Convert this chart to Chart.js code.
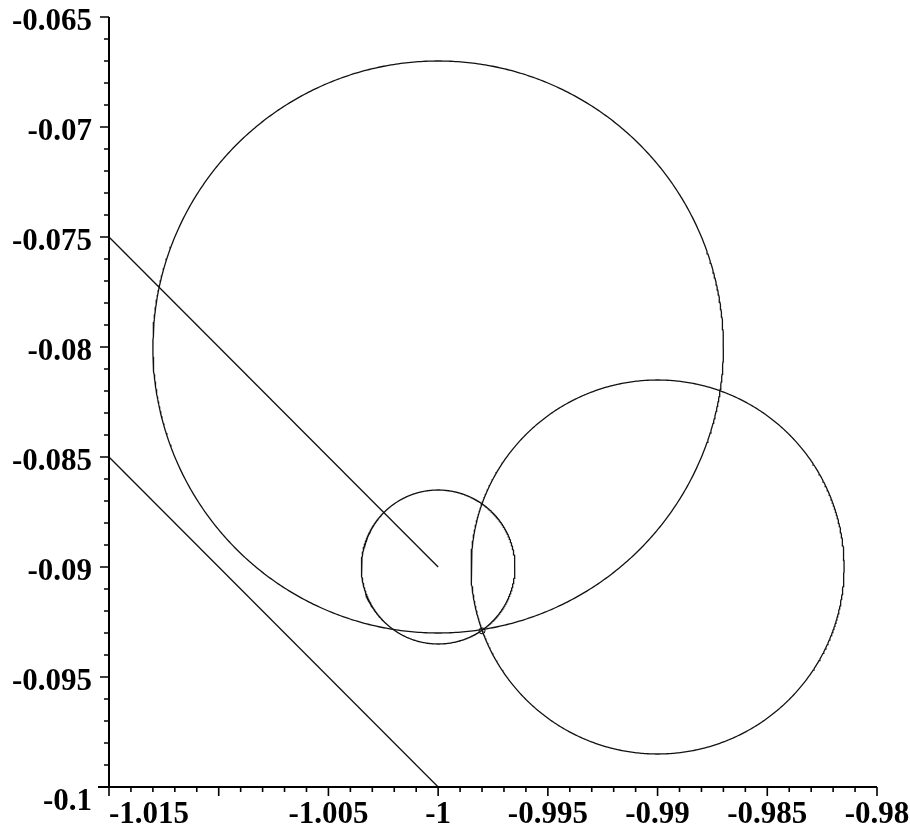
<!DOCTYPE html>
<html><head><meta charset="utf-8">
<script src="https://cdn.jsdelivr.net/npm/chart.js@4.4.1/dist/chart.umd.min.js"></script>
<style>html,body{margin:0;padding:0;background:#fff;overflow:hidden;}</style>
</head><body>
<canvas id="c" width="910" height="827"></canvas>
<script>
// ---- axis ranges and tick labels ----
const xMin = -1.015, xMax = -0.98;
const yMin = -0.1, yMax = -0.065;
const xMajorTicks = [-1.015, -1.01, -1.005, -1, -0.995, -0.99, -0.985, -0.98];
const xTickLabels = ['-1.015', '', '-1.005', '-1', '-0.995', '-0.99', '-0.985', '-0.98'];
const yMajorTicks = [-0.065, -0.07, -0.075, -0.08, -0.085, -0.09, -0.095, -0.1];
const yTickLabels = ['-0.065', '-0.07', '-0.075', '-0.08', '-0.085', '-0.09', '-0.095', '-0.1'];
const minorStep = 0.001;

// ---- circles: centre x, centre y, radius ----
const circleCenterX = [-1, -1, -0.99];
const circleCenterY = [-0.08, -0.09, -0.09];
const circleRadius = [0.013, 0.0035, 0.0085];

// ---- straight segments ----
const line1X = [-1.015, -1];
const line1Y = [-0.075, -0.09];
const line2X = [-1.015, -1];
const line2Y = [-0.085, -0.1];

// ---- marked intersection point ----
const markX = [-0.998];
const markY = [-0.0929];

function circlePoints(cx, cy, r) {
  const pts = [];
  const n = 720;
  for (let i = 0; i <= n; i++) {
    const t = 2 * Math.PI * i / n;
    pts.push({x: cx + r * Math.cos(t), y: cy + r * Math.sin(t)});
  }
  return pts;
}
function pairs(xs, ys) { return xs.map((x, i) => ({x: x, y: ys[i]})); }

const lineStyle = {showLine: true, pointRadius: 0, borderColor: '#111', borderWidth: 1.3, fill: false, tension: 0};
const datasets = [];
for (let i = 0; i < circleRadius.length; i++) {
  datasets.push(Object.assign({data: circlePoints(circleCenterX[i], circleCenterY[i], circleRadius[i])}, lineStyle));
}
datasets.push(Object.assign({data: pairs(line1X, line1Y)}, lineStyle));
datasets.push(Object.assign({data: pairs(line2X, line2Y)}, lineStyle));
datasets.push({data: pairs(markX, markY), showLine: false, pointRadius: 3, pointStyle: 'circle',
  borderColor: '#000', borderWidth: 1, backgroundColor: 'rgba(0,0,0,0)'});

const FONT = 'bold 31px "Liberation Serif", "Times New Roman", serif';

const axisPlugin = {
  id: 'mapleAxes',
  afterDraw(chart) {
    const ctx = chart.ctx;
    const xs = chart.scales.x, ys = chart.scales.y;
    const x0 = xs.getPixelForValue(xMin), x1 = xs.getPixelForValue(xMax);
    const y0 = ys.getPixelForValue(yMin), y1 = ys.getPixelForValue(yMax);
    ctx.save();
    ctx.strokeStyle = '#000';
    ctx.fillStyle = '#000';
    ctx.lineWidth = 2;
    ctx.beginPath();
    ctx.moveTo(x0, y1); ctx.lineTo(x0, y0);
    ctx.moveTo(x0 - 11, y0); ctx.lineTo(x1, y0);
    ctx.stroke();
    ctx.lineWidth = 1.6;
    // minor ticks
    const nx = Math.round((xMax - xMin) / minorStep);
    ctx.beginPath();
    for (let i = 0; i <= nx; i++) {
      const px = xs.getPixelForValue(xMin + i * minorStep);
      ctx.moveTo(px, y0); ctx.lineTo(px, y0 + 5);
    }
    const ny = Math.round((yMax - yMin) / minorStep);
    for (let i = 0; i <= ny; i++) {
      const py = ys.getPixelForValue(yMin + i * minorStep);
      ctx.moveTo(x0, py); ctx.lineTo(x0 - 5, py);
    }
    // major ticks
    xMajorTicks.forEach(v => { const px = xs.getPixelForValue(v); ctx.moveTo(px, y0); ctx.lineTo(px, y0 + 9); });
    yMajorTicks.forEach(v => { const py = ys.getPixelForValue(v); ctx.moveTo(x0, py); ctx.lineTo(x0 - 9, py); });
    ctx.stroke();
    // labels
    ctx.font = FONT;
    ctx.textBaseline = 'alphabetic';
    xMajorTicks.forEach((v, i) => {
      const lab = xTickLabels[i];
      if (!lab) return;
      const px = xs.getPixelForValue(v);
      if (v === xMin) { ctx.textAlign = 'left'; ctx.fillText(lab, px, y0 + 36); }
      else { ctx.textAlign = 'center'; ctx.fillText(lab, px, y0 + 36); }
    });
    ctx.textAlign = 'right';
    yMajorTicks.forEach((v, i) => {
      const py = ys.getPixelForValue(v);
      const off = (v === yMin) ? 23 : 13;
      ctx.fillText(yTickLabels[i], x0 - 17, py + off);
    });
    ctx.restore();
  }
};

new Chart(document.getElementById('c').getContext('2d'), {
  type: 'scatter',
  data: {datasets: datasets},
  options: {
    responsive: false,
    animation: false,
    devicePixelRatio: 1,
    layout: {padding: {top: 17, right: 33, left: 0, bottom: 0}},
    plugins: {legend: {display: false}, tooltip: {enabled: false}},
    scales: {
      x: {type: 'linear', min: xMin, max: xMax, grid: {display: false}, border: {display: false},
          ticks: {display: false}, afterFit(s) { s.height = 40; }},
      y: {type: 'linear', min: yMin, max: yMax, grid: {display: false}, border: {display: false},
          ticks: {display: false}, afterFit(s) { s.width = 109; }}
    }
  },
  plugins: [axisPlugin]
});
</script>
</body></html>
